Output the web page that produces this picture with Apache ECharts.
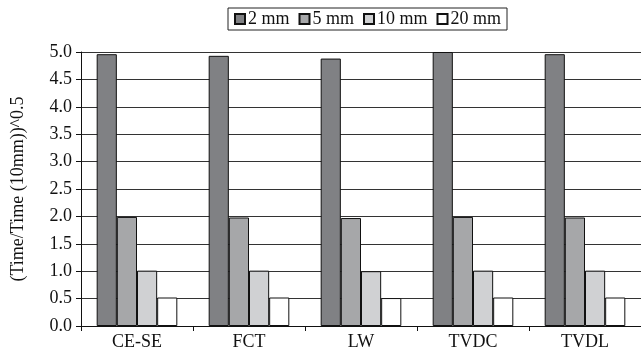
<!DOCTYPE html>
<html>
<head>
<meta charset="utf-8">
<script src="https://cdn.jsdelivr.net/npm/echarts@6/dist/echarts.min.js"></script>
<style>html,body{margin:0;padding:0;background:#fff;}#c{width:641px;height:354px;}</style>
</head>
<body>
<div id="c"></div>
<script>
var categories = ['CE-SE', 'FCT', 'LW', 'TVDC', 'TVDL'];
var seriesNames = ['2 mm', '5 mm', '10 mm', '20 mm'];
var v2mm = [4.96, 4.93, 4.88, 5.0, 4.96];
var v5mm = [1.99, 1.98, 1.97, 1.99, 1.98];
var v10mm = [1.01, 1.01, 1.00, 1.01, 1.01];
var v20mm = [0.52, 0.52, 0.51, 0.52, 0.52];
var yTicks = { min: 0, max: 5, interval: 0.5 };
var yTitle = '(Time/Time (10mm))^0.5';

var colors = ['#808184', '#a6a7a9', '#d0d1d3', '#ffffff'];
var values = [v2mm, v5mm, v10mm, v20mm];
var font = '"Liberation Serif", "Times New Roman", serif';

var chart = echarts.init(document.getElementById('c'));
chart.setOption({
  animation: false,
  backgroundColor: '#fff',
  textStyle: { fontFamily: font },
  legend: {
    left: 228, top: 8,
    padding: [2, 6, 2, 6],
    borderColor: '#222', borderWidth: 1,
    itemWidth: 10, itemHeight: 10, itemGap: 9,
    icon: 'rect',
    textStyle: { fontFamily: font, fontSize: 18, color: '#111', padding: [0, 0, 0, -2] },
    data: seriesNames
  },
  grid: { left: 81, top: 52, bottom: 28, right: -7.5, containLabel: false },
  xAxis: {
    type: 'category', data: categories,
    axisLine: { lineStyle: { color: '#111', width: 1 } },
    axisTick: { show: true, length: 5, lineStyle: { color: '#111' } },
    axisLabel: { fontFamily: font, fontSize: 18, color: '#111', margin: 7 }
  },
  yAxis: {
    type: 'value', min: yTicks.min, max: yTicks.max, interval: yTicks.interval,
    name: yTitle, nameLocation: 'middle', nameGap: 54, nameRotate: 90,
    nameTextStyle: { fontFamily: font, fontSize: 18, color: '#111' },
    axisLine: { show: true, lineStyle: { color: '#111' } },
    axisTick: { show: true, length: 5, lineStyle: { color: '#111' } },
    axisLabel: { fontFamily: font, fontSize: 18, color: '#111', margin: 9,
      formatter: function (v) { return v.toFixed(1); } },
    splitLine: { show: true, lineStyle: { color: '#333', width: 1 } }
  },
  series: seriesNames.map(function (n, i) {
    return {
      name: n, type: 'bar', data: values[i],
      barGap: '0%', barCategoryGap: '28%',
      itemStyle: { color: colors[i], borderColor: '#111', borderWidth: 1 }
    };
  })
});
</script>
</body>
</html>
